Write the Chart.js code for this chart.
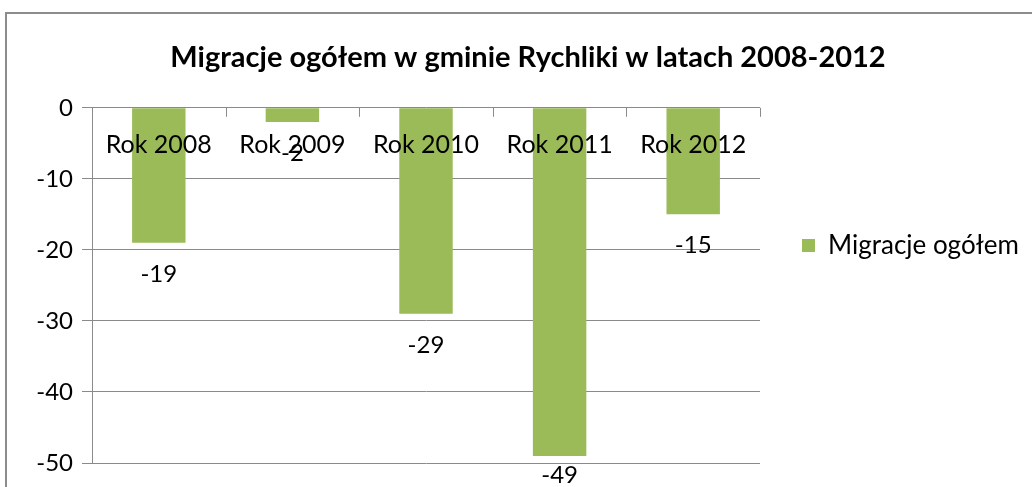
<!DOCTYPE html>
<html>
<head>
<meta charset="utf-8">
<script src="https://cdn.jsdelivr.net/npm/chart.js@4/dist/chart.umd.min.js"></script>
<style>
  html, body { margin: 0; padding: 0; background: #fff; }
  #frame {
    position: absolute; left: 5px; top: 12px; width: 1100px; height: 600px;
    border-left: 2px solid #8c8c8c; border-top: 2px solid #8c8c8c;
  }
  #wrap { position: absolute; left: 0; top: 0; width: 1032px; height: 487px; }
</style>
</head>
<body>
<div id="frame"></div>
<div id="wrap"><canvas id="chart" width="1032" height="487"></canvas></div>
<script>
// Data
const categories = ['Rok 2008', 'Rok 2009', 'Rok 2010', 'Rok 2011', 'Rok 2012'];
const migracje = [-19, -2, -29, -49, -15];
const yMin = -50;
const yMax = 0;
const yStep = 10;

const FONT = 'Lato';
const GRID = '#8a8a8a';
const LEGEND_WIDTH = 272;

// Category labels under the zero line, tick marks and value labels (Excel style)
const excelLabels = {
    id: 'excelLabels',
    afterDatasetsDraw(chart) {
        const ctx = chart.ctx;
        const x = chart.scales.x;
        const y = chart.scales.y;
        const area = chart.chartArea;
        const y0 = y.getPixelForValue(0);
        ctx.save();

        // small tick marks between categories, pointing down
        ctx.strokeStyle = GRID;
        ctx.lineWidth = 1;
        const step = (area.right - area.left) / categories.length;
        for (let i = 1; i <= categories.length; i++) {
            const px = Math.round(area.left + i * step) + 0.5;
            ctx.beginPath();
            ctx.moveTo(px, y0);
            ctx.lineTo(px, y0 + 9);
            ctx.stroke();
        }

        ctx.fillStyle = '#000';
        ctx.font = '25px ' + FONT;
        ctx.textAlign = 'center';
        ctx.textBaseline = 'middle';
        categories.forEach((c, i) => {
            ctx.fillText(c, x.getPixelForValue(i), y0 + 37);
        });

        ctx.font = '24px ' + FONT;
        const meta = chart.getDatasetMeta(0);
        meta.data.forEach((bar, i) => {
            const ly = Math.min(bar.y + 31, chart.height - 12);
            ctx.fillText(String(migracje[i]), bar.x, ly);
        });
        ctx.restore();
    }
};

// keep the legend column a fixed width so the text is not clipped
const legendWidth = {
    id: 'legendWidth',
    beforeLayout(chart) {
        const lg = chart.legend;
        if (lg && !lg._fixedFit) {
            const fit = lg.fit;
            lg.fit = function () {
                fit.call(this);
                this.width = LEGEND_WIDTH;
            };
            lg._fixedFit = true;
        }
    }
};

new Chart(document.getElementById('chart'), {
    type: 'bar',
    data: {
        labels: categories,
        datasets: [{
            label: 'Migracje ogółem',
            data: migracje,
            backgroundColor: '#9bbb59',
            borderWidth: 0,
            categoryPercentage: 1,
            barPercentage: 0.4
        }]
    },
    options: {
        responsive: false,
        animation: false,
        layout: { padding: { top: 28, bottom: 24, left: 24, right: 0 } },
        scales: {
            x: { display: false },
            y: {
                min: yMin,
                max: yMax,
                ticks: {
                    stepSize: yStep,
                    color: '#000',
                    padding: 9,
                    font: { family: FONT, size: 24 }
                },
                grid: { color: GRID, tickLength: 10, lineWidth: 1 },
                border: { color: GRID },
                afterFit(scale) { scale.width = 68; }
            }
        },
        plugins: {
            title: {
                display: true,
                text: 'Migracje ogółem w gminie Rychliki w latach 2008-2012',
                color: '#000',
                font: { family: FONT, size: 29, weight: 'bold' },
                padding: { top: 12, bottom: 33 }
            },
            legend: {
                position: 'right',
                labels: {
                    color: '#000',
                    boxWidth: 13,
                    boxHeight: 13,
                    padding: 42,
                    font: { family: FONT, size: 26 }
                }
            },
            tooltip: { enabled: false }
        }
    },
    plugins: [excelLabels, legendWidth]
});
</script>
</body>
</html>
